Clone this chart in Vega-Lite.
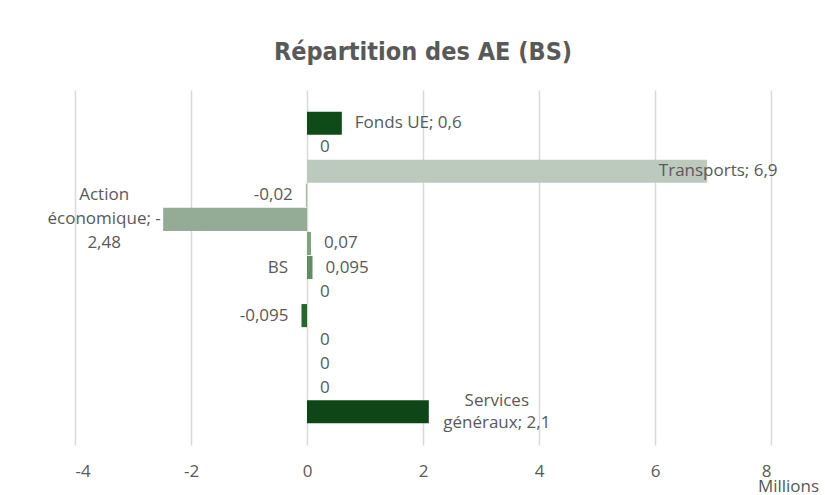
{
  "$schema": "https://vega.github.io/schema/vega-lite/v6.json",
  "autosize": "none",
  "width": 696,
  "height": 355,
  "padding": {"left": 75, "top": 90, "right": 54, "bottom": 50},
  "background": "white",
  "title": {
    "text": "Répartition des AE (BS)",
    "font": "DejaVu Sans Condensed",
    "fontSize": 25,
    "fontWeight": "bold",
    "color": "#595959",
    "anchor": "middle",
    "offset": 25
  },
  "config": {
    "view": {"stroke": null},
    "text": {"font": "Open Sans", "fontSize": 17, "color": "#595959"}
  },
  "data": {
    "values": [
      {"categorie": "Fonds UE", "valeur": 0.6, "etiquette": "Fonds UE; 0,6"},
      {"categorie": "Catégorie 2", "valeur": 0, "etiquette": "0"},
      {"categorie": "Transports", "valeur": 6.9, "etiquette": "Transports; 6,9"},
      {"categorie": "Catégorie 4", "valeur": -0.02, "etiquette": "-0,02"},
      {"categorie": "Action économique", "valeur": -2.48, "etiquette": ["Action", "économique; -", "2,48"]},
      {"categorie": "Catégorie 6", "valeur": 0.07, "etiquette": "0,07"},
      {"categorie": "BS", "valeur": 0.095, "etiquette": "0,095"},
      {"categorie": "Catégorie 8", "valeur": 0, "etiquette": "0"},
      {"categorie": "Catégorie 9", "valeur": -0.095, "etiquette": "-0,095"},
      {"categorie": "Catégorie 10", "valeur": 0, "etiquette": "0"},
      {"categorie": "Catégorie 11", "valeur": 0, "etiquette": "0"},
      {"categorie": "Catégorie 12", "valeur": 0, "etiquette": "0"},
      {"categorie": "Services généraux", "valeur": 2.1, "etiquette": ["Services", "généraux; 2,1"]}
    ]
  },
  "encoding": {
    "y": {
      "field": "categorie",
      "type": "nominal",
      "sort": null,
      "axis": null,
      "scale": {"paddingInner": 0.04, "paddingOuter": 0.9}
    },
    "x": {
      "field": "valeur",
      "type": "quantitative",
      "scale": {"domain": [-4, 8], "nice": false, "zero": false},
      "axis": {
        "values": [-4, -2, 0, 2, 4, 6, 8],
        "labelExpr": "datum.value < 0 ? '-' + abs(datum.value) : '' + datum.value",
        "grid": true,
        "gridColor": "#d9d9d9",
        "gridWidth": 1.5,
        "domain": false,
        "ticks": false,
        "labelPadding": 18,
        "labelFont": "Open Sans",
        "labelFontSize": 17,
        "labelColor": "#595959",
        "title": "Millions",
        "titleFont": "Open Sans",
        "titleFontSize": 17,
        "titleFontWeight": "normal",
        "titleColor": "#595959",
        "titleX": 713,
        "titleY": 41,
        "titleAlign": "center",
        "titleBaseline": "middle"
      }
    }
  },
  "layer": [
    {
      "mark": {"type": "bar"},
      "encoding": {
        "color": {
          "field": "categorie",
          "type": "nominal",
          "legend": null,
          "scale": {
            "domain": ["Fonds UE", "Catégorie 2", "Transports", "Catégorie 4", "Action économique", "Catégorie 6", "BS", "Catégorie 8", "Catégorie 9", "Catégorie 10", "Catégorie 11", "Catégorie 12", "Services généraux"],
            "range": ["#0f4a19", "#2f7a3a", "#bccabd", "#a9b9aa", "#94ac95", "#7ea37f", "#5f8f60", "#3f7f46", "#1f6a29", "#1a5e24", "#155322", "#12501d", "#0e4618"]
          }
        }
      }
    },
    {
      "transform": [{"filter": {"field": "categorie", "oneOf": ["Fonds UE", "Catégorie 2", "Catégorie 6", "BS", "Catégorie 8", "Catégorie 10", "Catégorie 11", "Catégorie 12"]}}],
      "mark": {"type": "text", "align": "left", "baseline": "middle", "dx": 13},
      "encoding": {"text": {"field": "etiquette"}}
    },
    {
      "transform": [{"filter": {"field": "categorie", "oneOf": ["Catégorie 4", "Catégorie 9"]}}],
      "mark": {"type": "text", "align": "right", "baseline": "middle", "dx": -13},
      "encoding": {"text": {"field": "etiquette"}}
    },
    {
      "transform": [{"filter": {"field": "categorie", "equal": "Transports"}}],
      "mark": {"type": "text", "align": "center", "baseline": "middle", "dx": 11},
      "encoding": {"text": {"field": "etiquette"}}
    },
    {
      "transform": [{"filter": {"field": "categorie", "equal": "Action économique"}}],
      "mark": {"type": "text", "align": "center", "baseline": "middle", "dx": -59, "dy": -24, "lineHeight": 24},
      "encoding": {"text": {"field": "etiquette"}}
    },
    {
      "transform": [{"filter": {"field": "categorie", "equal": "Services généraux"}}],
      "mark": {"type": "text", "align": "center", "baseline": "middle", "dx": 68, "dy": -11, "lineHeight": 22},
      "encoding": {"text": {"field": "etiquette"}}
    },
    {
      "transform": [{"filter": {"field": "categorie", "equal": "BS"}}],
      "mark": {"type": "text", "align": "right", "baseline": "middle", "dx": -19},
      "encoding": {"x": {"datum": 0}, "text": {"field": "categorie"}}
    }
  ]
}
